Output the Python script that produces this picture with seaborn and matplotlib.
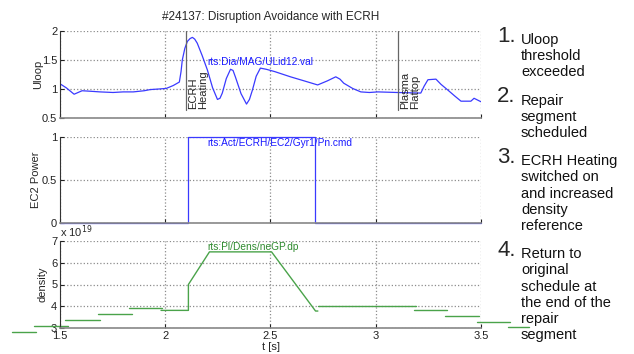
import numpy as np
import pandas as pd
import matplotlib
matplotlib.use('Agg')
import matplotlib.pyplot as plt
import seaborn as sns

# loop voltage trace (t [s], Uloop [V])
t_uloop = [1.50, 1.53, 1.567, 1.605, 1.65, 1.69, 1.752, 1.80, 1.848, 1.90, 1.929, 1.97, 2.005,
           2.038, 2.067, 2.075, 2.081, 2.093, 2.105, 2.118, 2.129, 2.14, 2.152, 2.175, 2.200,
           2.225, 2.248, 2.260, 2.271, 2.290, 2.310, 2.322, 2.333, 2.36, 2.386, 2.40, 2.414,
           2.432, 2.452, 2.48, 2.52, 2.595, 2.66, 2.724, 2.77, 2.810, 2.83, 2.848, 2.89,
           2.929, 2.97, 3.010, 3.10, 3.214, 3.23, 3.248, 3.286, 3.31, 3.343, 3.375, 3.405,
           3.452, 3.467, 3.50]
uloop = [1.09, 1.02, 0.91, 0.97, 0.96, 0.95, 0.94, 0.95, 0.95, 0.97, 0.99, 1.00, 1.01,
         1.06, 1.12, 1.30, 1.50, 1.70, 1.82, 1.87, 1.89, 1.86, 1.79, 1.58, 1.33,
         1.02, 0.82, 0.84, 0.93, 1.18, 1.34, 1.32, 1.21, 0.92, 0.74, 0.82, 0.98,
         1.22, 1.36, 1.34, 1.30, 1.21, 1.14, 1.07, 1.14, 1.21, 1.17, 1.10, 1.01,
         0.95, 0.94, 0.95, 0.94, 0.93, 1.05, 1.16, 1.17, 1.08, 0.98, 0.88, 0.79,
         0.79, 0.84, 0.78]

# EC2 gyrotron power command (normalised), step levels
t_ec2 = [1.50, 2.11, 2.71, 3.50]
p_ec2 = [0, 1, 0, 0]

# density reference segments [1e19 m^-3]
dens_seg = [0, 0, 1, 1, 2, 2, 3, 3, 4, 4,
            5, 5, 5, 5, 5, 5, 5,
            6, 6, 7, 7, 8, 8, 9, 9, 10, 10]
dens_t = [1.27, 1.386, 1.376, 1.538, 1.524, 1.69, 1.68, 1.843, 1.83, 1.986,
          1.98, 2.11, 2.11, 2.21, 2.505, 2.714, 2.725,
          2.725, 3.19, 3.18, 3.34, 3.33, 3.49, 3.48, 3.64, 3.63, 3.73]
dens_val = [2.80, 2.80, 3.08, 3.08, 3.37, 3.37, 3.64, 3.64, 3.90, 3.90,
            3.81, 3.81, 5.00, 6.50, 6.50, 3.78, 3.78,
            4.00, 4.00, 3.84, 3.84, 3.57, 3.57, 3.28, 3.28, 3.03, 3.03]

t_ecrh_on = 2.098
t_flattop = 3.105

notes = [
    ("1.", ["Uloop", "threshold", "exceeded"]),
    ("2.", ["Repair", "segment", "scheduled"]),
    ("3.", ["ECRH Heating", "switched on", "and increased", "density", "reference"]),
    ("4.", ["Return to", "original", "schedule at", "the end of the", "repair", "segment"]),
]

sns.set_style('white')
plt.rcParams['font.family'] = ['Liberation Sans', 'DejaVu Sans']
plt.rcParams.update({
    'axes.grid': True,
    'grid.linestyle': ':',
    'grid.color': '#8c8c8c',
    'grid.linewidth': 0.9,
    'xtick.bottom': True,
    'ytick.left': True,
})

W, H = 634, 354
fig = plt.figure(figsize=(W / 100, H / 100), dpi=100)


def px_axes(x0, y0, x1, y1):
    return fig.add_axes([x0 / W, 1 - y1 / H, (x1 - x0) / W, (y1 - y0) / H])


ax1 = px_axes(60, 31, 481, 118)
ax2 = px_axes(60, 137, 481, 223)
ax3 = px_axes(60, 241, 481, 328)

blue = '#3a3aff'
blue_txt = '#1a1aff'
green = '#4aa34a'
green_txt = '#2f8a2f'

df_u = pd.DataFrame({'t': t_uloop, 'Uloop': uloop})
sns.lineplot(data=df_u, x='t', y='Uloop', ax=ax1, color=blue, lw=0.9, sort=False)

df_p = pd.DataFrame({'t': t_ec2, 'P': p_ec2})
sns.lineplot(data=df_p, x='t', y='P', ax=ax2, color=blue, lw=0.9, sort=False,
             drawstyle='steps-post')

df_d = pd.DataFrame({'t': dens_t, 'ne': dens_val, 'seg': dens_seg})
sns.lineplot(data=df_d, x='t', y='ne', units='seg', estimator=None, ax=ax3,
             color=green, lw=1.0, sort=False)
for ln in ax3.lines:
    ln.set_clip_on(False)
for ln in ax2.lines:
    ln.set_clip_on(False)

for ax in (ax1, ax2, ax3):
    ax.set_xlim(1.5, 3.5)
    ax.set_xticks([1.5, 2, 2.5, 3, 3.5])
    ax.tick_params(direction='in', length=3, width=0.8, labelsize=8, pad=2,
                   colors='#222222', bottom=True, left=True)
    ax.grid(visible=True, linestyle=':', color='#8c8c8c', linewidth=0.9)
    ax.set_axisbelow(True)
    ax.spines['top'].set_visible(False)
    ax.spines['right'].set_visible(False)
    ax.spines['left'].set_color('#333333')
    ax.spines['left'].set_linewidth(0.8)
    ax.spines['bottom'].set_color('#888888')
    ax.spines['bottom'].set_linewidth(1.2)
    ax.set_xlabel('')

ax1.set_ylim(0.5, 2)
ax1.set_yticks([0.5, 1, 1.5, 2])
ax1.set_yticklabels(['0.5', '1', '1.5', '2'])
ax1.set_xticklabels([])
ax1.set_ylabel('Uloop', fontsize=8)
ax1.yaxis.set_label_coords(-0.040, 0.5)
ax1.set_title('#24137: Disruption Avoidance with ECRH', fontsize=8.5, pad=8)

for tv, lab in ((t_ecrh_on, 'ECRH\nHeating'), (t_flattop, 'Plasma\nFlattop')):
    ax1.plot([tv, tv], [2.0, 0.63], color='#666666', lw=0.9)
    ax1.text(tv + 0.012, 0.66, lab, rotation=90, ha='left', va='bottom',
             fontsize=8, multialignment='left', linespacing=1.0)

ax1.text(2.2, 1.47, 'rts:Dia/MAG/ULid12.val', color=blue_txt, fontsize=7.3,
         va='center', ha='left')

ax2.set_ylim(0, 1)
ax2.set_yticks([0, 0.5, 1])
ax2.set_yticklabels(['0', '0.5', '1'])
ax2.set_xticklabels([])
ax2.set_ylabel('EC2 Power', fontsize=8)
ax2.yaxis.set_label_coords(-0.045, 0.5)
ax2.text(2.2, 0.93, 'rts:Act/ECRH/EC2/Gyr1/Pn.cmd', color=blue_txt, fontsize=7.3,
         va='center', ha='left')

ax3.set_ylim(3, 7)
ax3.set_yticks([3, 4, 5, 6, 7])
ax3.set_xticklabels(['1.5', '2', '2.5', '3', '3.5'])
ax3.set_ylabel('density', fontsize=8)
ax3.yaxis.set_label_coords(-0.029, 0.5)
ax3.set_xlabel('t [s]', fontsize=8, labelpad=1)
ax3.text(0.0, 1.01, r'x 10$^{19}$', transform=ax3.transAxes, fontsize=8,
         ha='left', va='bottom')
ax3.text(2.2, 6.72, 'rts:Pl/Dens/neGP.dp', color=green_txt, fontsize=7.3,
         va='center', ha='left')

# numbered annotation list on the right
y = 40
for num, lines in notes:
    fig.text(497 / W, 1 - (y - 4) / H, num, fontsize=16, ha='left', va='center')
    for i, line in enumerate(lines):
        fig.text(521 / W, 1 - (y + i * 16.2) / H, line, fontsize=10.5,
                 ha='left', va='center', color='#111111')
    y += len(lines) * 16.2 + 12

fig.savefig('out.png', dpi=100)
